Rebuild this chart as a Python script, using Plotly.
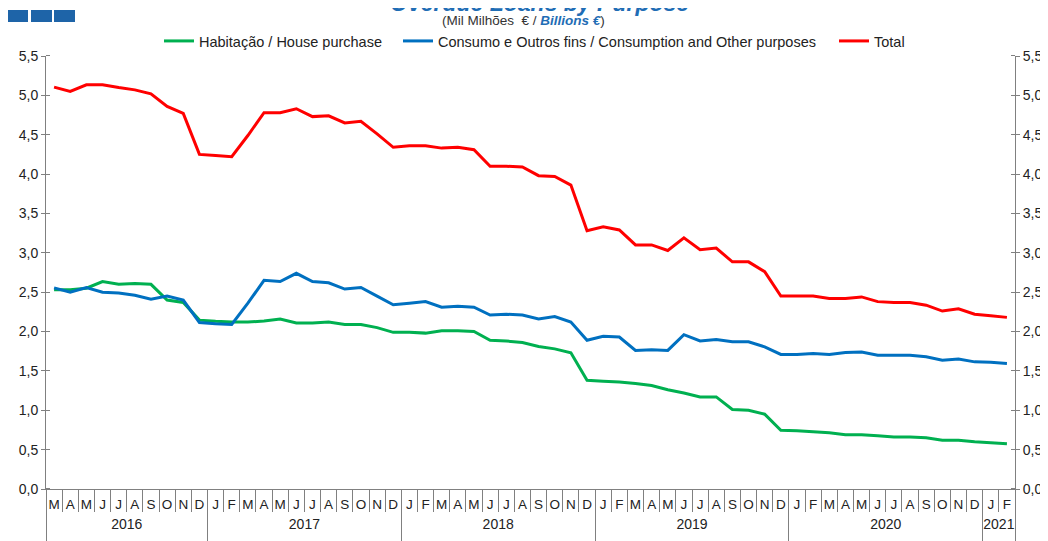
import plotly.graph_objects as go

# ---------------- data ----------------
year_labels = ["2016", "2017", "2018", "2019", "2020", "2021"]
months_per_year = [10, 12, 12, 12, 12, 2]
month_labels = (
    ["M", "A", "M", "J", "J", "A", "S", "O", "N", "D"]
    + ["J", "F", "M", "A", "M", "J", "J", "A", "S", "O", "N", "D"]
    + ["J", "F", "M", "A", "M", "J", "J", "A", "S", "O", "N", "D"]
    + ["J", "F", "M", "A", "M", "J", "J", "A", "S", "O", "N", "D"]
    + ["J", "F", "M", "A", "M", "J", "J", "A", "S", "O", "N", "D"]
    + ["J", "F"]
)

house = [2.53, 2.53, 2.55, 2.635, 2.60, 2.61, 2.60, 2.40, 2.37, 2.145,
         2.13, 2.12, 2.12, 2.135, 2.16, 2.11, 2.11, 2.12, 2.09, 2.09,
         2.05, 1.99, 1.99, 1.98, 2.01, 2.01, 2.00, 1.89, 1.88, 1.86,
         1.81, 1.78, 1.73, 1.38, 1.37, 1.36, 1.34, 1.315, 1.26, 1.22,
         1.17, 1.17, 1.01, 1.00, 0.95, 0.745, 0.74, 0.727, 0.715, 0.69,
         0.69, 0.676, 0.66, 0.66, 0.65, 0.62, 0.62, 0.60, 0.585, 0.575]

consumption = [2.555, 2.50, 2.56, 2.50, 2.49, 2.46, 2.41, 2.45, 2.40, 2.115,
               2.10, 2.09, 2.36, 2.65, 2.635, 2.74, 2.635, 2.62, 2.54, 2.56,
               2.45, 2.34, 2.36, 2.38, 2.31, 2.32, 2.31, 2.21, 2.22, 2.21,
               2.16, 2.19, 2.12, 1.89, 1.94, 1.93, 1.76, 1.77, 1.76, 1.96,
               1.88, 1.90, 1.87, 1.87, 1.805, 1.71, 1.71, 1.72, 1.71, 1.735,
               1.74, 1.70, 1.70, 1.70, 1.68, 1.635, 1.65, 1.615, 1.61, 1.595]

total = [5.105, 5.05, 5.135, 5.135, 5.10, 5.07, 5.02, 4.86, 4.77, 4.25,
         4.235, 4.22, 4.49, 4.78, 4.78, 4.83, 4.73, 4.74, 4.65, 4.67,
         4.51, 4.34, 4.36, 4.36, 4.33, 4.34, 4.31, 4.10, 4.10, 4.09,
         3.98, 3.97, 3.86, 3.28, 3.33, 3.29, 3.10, 3.10, 3.03, 3.19,
         3.04, 3.06, 2.885, 2.885, 2.76, 2.45, 2.45, 2.45, 2.42, 2.42,
         2.44, 2.38, 2.37, 2.37, 2.335, 2.26, 2.29, 2.22, 2.20, 2.18]

series_names = ["Habitação / House purchase",
                "Consumo e Outros fins / Consumption and Other purposes",
                "Total"]
series_colors = ["#00B050", "#0070C0", "#FF0000"]

y_ticks = [0.0, 0.5, 1.0, 1.5, 2.0, 2.5, 3.0, 3.5, 4.0, 4.5, 5.0, 5.5]

# ---------------- layout geometry ----------------
# the page body has an 8px margin, so the figure is 8px smaller and all
# page-pixel helpers below refer to the final page coordinates
OFF = 8
W, H = 1048 - OFF, 541 - OFF
PLOT_L, PLOT_R, PLOT_T, PLOT_B = 46, 1015, 56, 489     # page pixels
PW, PH = PLOT_R - PLOT_L, PLOT_B - PLOT_T
FONT = "Liberation Sans, Arial, sans-serif"
AXIS_COL = "#808080"
TXT_COL = "#222222"


def px2x(px):
    return (px - PLOT_L) / PW


def py2y(py):
    return (PLOT_B - py) / PH


# month positions on a numeric axis (one slot per month)
n = len(month_labels)
xpos = list(range(n))
month_bounds = [i - 0.5 for i in range(n + 1)]
year_bounds = [-0.5]
for m in months_per_year:
    year_bounds.append(year_bounds[-1] + m)
year_centers = [(a + b) / 2 for a, b in zip(year_bounds[:-1], year_bounds[1:])]
xrange_ = [-0.5, n - 0.5]

fig = go.Figure()
fig.add_trace(go.Scatter(x=xpos, y=house, mode="lines", name=series_names[0],
                         line=dict(color=series_colors[0], width=3), legend="legend"))
fig.add_trace(go.Scatter(x=xpos, y=consumption, mode="lines", name=series_names[1],
                         line=dict(color=series_colors[1], width=3), legend="legend2"))
fig.add_trace(go.Scatter(x=xpos, y=total, mode="lines", name=series_names[2],
                         line=dict(color=series_colors[2], width=3),
                         xaxis="x2", yaxis="y2", legend="legend3"))

axis_y = dict(range=[0, 5.5], tickmode="array", tickvals=y_ticks, tickformat=".1f",
              ticks="outside", ticklen=4, tickcolor=AXIS_COL,
              showline=True, linecolor=AXIS_COL, linewidth=1,
              showgrid=False, zeroline=False,
              tickfont=dict(family=FONT, size=14, color=TXT_COL),
              minor=dict(tickmode="array", tickvals=[v + 0.0005 for v in y_ticks],
                         ticks="inside", ticklen=4, tickcolor=AXIS_COL, showgrid=False))

legend_base = dict(orientation="h", y=py2y(41), yanchor="middle", xanchor="left",
                   font=dict(family=FONT, size=14.5, color=TXT_COL),
                   bgcolor="rgba(0,0,0,0)", itemwidth=30)

fig.update_layout(
    width=W, height=H,
    margin=dict(l=PLOT_L - OFF, r=1048 - PLOT_R, t=PLOT_T - OFF, b=541 - PLOT_B,
                autoexpand=False),
    paper_bgcolor="white", plot_bgcolor="white",
    separators=",.",
    font=dict(family=FONT, size=14, color=TXT_COL),
    showlegend=True,
    legend=dict(legend_base, x=px2x(159)),
    legend2=dict(legend_base, x=px2x(398)),
    legend3=dict(legend_base, x=px2x(834)),
    xaxis=dict(range=xrange_, tickmode="array", tickvals=xpos, ticktext=month_labels,
               ticks="", tickangle=0, showline=True, linecolor=AXIS_COL, linewidth=1,
               showgrid=False, zeroline=False, ticklabelstandoff=3,
               tickfont=dict(family=FONT, size=13.5, color=TXT_COL),
               minor=dict(tickmode="array", tickvals=month_bounds, ticks="outside",
                          ticklen=22, tickcolor=AXIS_COL, tickwidth=1, showgrid=False)),
    xaxis2=dict(range=xrange_, overlaying="x", anchor="free", position=0, side="bottom",
                tickmode="array", tickvals=year_centers, ticktext=year_labels,
                ticks="", tickangle=0, showline=False, showgrid=False, zeroline=False,
                ticklabelstandoff=25,
                tickfont=dict(family=FONT, size=14, color=TXT_COL),
                minor=dict(tickmode="array", tickvals=year_bounds, ticks="outside",
                           ticklen=52, tickcolor=AXIS_COL, tickwidth=1, showgrid=False)),
    yaxis=axis_y,
    yaxis2=dict(axis_y, overlaying="y", side="right", anchor="x2"),
)

# decorative squares top-left
for x0, x1 in [(7, 28), (31, 52), (54, 75)]:
    fig.add_shape(type="rect", xref="paper", yref="paper",
                  x0=px2x(x0), x1=px2x(x1), y0=py2y(22), y1=py2y(10),
                  fillcolor="#1E64A8", line=dict(width=0))

fig.add_annotation(xref="paper", yref="paper", x=px2x(539), y=py2y(18),
                   xanchor="center", yanchor="bottom", showarrow=False,
                   text="<b><i>Overdue Loans by Purpose</i></b>",
                   font=dict(family=FONT, size=23, color="#1F6DB5"))
fig.add_annotation(xref="paper", yref="paper", x=px2x(523), y=py2y(20),
                   xanchor="center", yanchor="middle", showarrow=False,
                   text="(Mil Milhões  € / <b><i><span style='color:#1F6DB5'>Billions €</span></i></b>)",
                   font=dict(family=FONT, size=13.5, color="#333333"))

fig.write_html("out.html")
